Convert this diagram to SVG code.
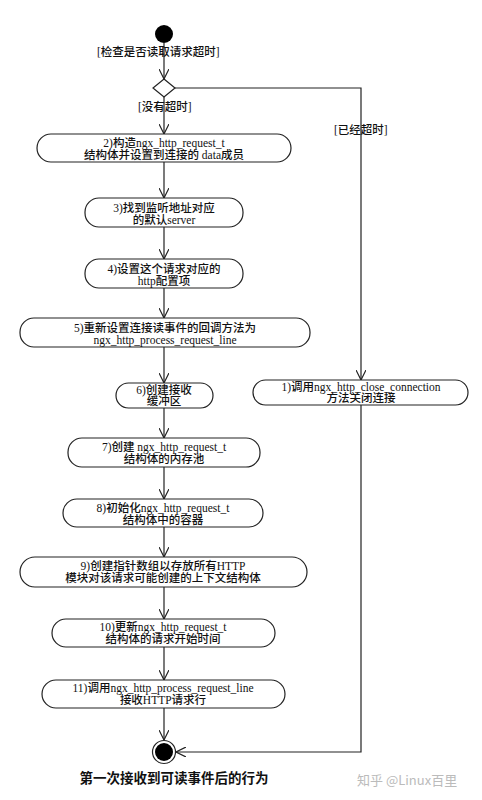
<svg xmlns="http://www.w3.org/2000/svg" width="482" height="800" viewBox="0 0 482 800">
<defs>
<style>
.n{fill:#fff;stroke:#222;stroke-width:1.2}
.t{font-family:"Liberation Serif","Noto Sans CJK SC",serif;font-size:11.5px;font-weight:500;fill:#111;text-anchor:middle}
.g{font-family:"Liberation Serif","Noto Sans CJK SC",serif;font-size:11.5px;font-weight:500;fill:#111}
.c{fill:none;stroke:#222;stroke-width:1.2}
</style>
<marker id="a" viewBox="0 0 10 10" refX="10" refY="5" markerWidth="10" markerHeight="10" markerUnits="userSpaceOnUse" orient="auto">
<path d="M0,0 L10,5 L0,10" fill="none" stroke="#222" stroke-width="1.2"/>
</marker>
</defs>
<rect width="482" height="800" fill="#fff"/>
<g id="connectors">
<path class="c" d="M164,43 V79" marker-end="url(#a)"/>
<path class="c" d="M164,97 V134" marker-end="url(#a)"/>
<path class="c" d="M164,162 V198" marker-end="url(#a)"/>
<path class="c" d="M164,227 V259" marker-end="url(#a)"/>
<path class="c" d="M164,288 V318" marker-end="url(#a)"/>
<path class="c" d="M164,347 V383" marker-end="url(#a)"/>
<path class="c" d="M164,408 V438" marker-end="url(#a)"/>
<path class="c" d="M164,467 V499" marker-end="url(#a)"/>
<path class="c" d="M164,527 V557" marker-end="url(#a)"/>
<path class="c" d="M164,587 V619" marker-end="url(#a)"/>
<path class="c" d="M164,647 V680" marker-end="url(#a)"/>
<path class="c" d="M164,708 V740" marker-end="url(#a)"/>
<path class="c" d="M175,88 H361 V380" marker-end="url(#a)"/>
<path class="c" d="M361,405 V752 H176" marker-end="url(#a)"/>
<text class="g" x="97" y="56">[检查是否读取请求超时]</text>
<text class="g" x="138" y="111">[没有超时]</text>
<text class="g" x="334" y="134">[已经超时]</text>
</g>
<g id="start"><circle cx="164" cy="34" r="9" fill="#000"/></g>
<g id="decision"><path d="M164,79 L175,88 L164,97 L153,88 Z" class="n"/></g>
<g id="node2"><rect class="n" x="37" y="134" width="254" height="28" rx="14"/>
<text class="t" x="164" y="147">2)构造ngx_http_request_t</text>
<text class="t" x="164" y="159">结构体并设置到连接的 data成员</text></g>
<g id="node3"><rect class="n" x="85" y="198" width="158" height="29" rx="14"/>
<text class="t" x="164" y="212">3)找到监听地址对应</text>
<text class="t" x="164" y="224">的默认server</text></g>
<g id="node4"><rect class="n" x="85" y="259" width="158" height="29" rx="14"/>
<text class="t" x="164" y="273">4)设置这个请求对应的</text>
<text class="t" x="164" y="285">http配置项</text></g>
<g id="node5"><rect class="n" x="20" y="318" width="290" height="29" rx="14"/>
<text class="t" x="165" y="332">5)重新设置连接读事件的回调方法为</text>
<text class="t" x="165" y="344">ngx_http_process_request_line</text></g>
<g id="node6"><rect class="n" x="116" y="383" width="97" height="25" rx="12.5"/>
<text class="t" x="164" y="394">6)创建接收</text>
<text class="t" x="164" y="405">缓冲区</text></g>
<g id="node1"><rect class="n" x="253" y="380" width="215" height="25" rx="12.5"/>
<text class="t" x="361" y="391">1)调用ngx_http_close_connection</text>
<text class="t" x="361" y="402">方法关闭连接</text></g>
<g id="node7"><rect class="n" x="68" y="438" width="192" height="29" rx="14"/>
<text class="t" x="164" y="451">7)创建 ngx_http_request_t</text>
<text class="t" x="164" y="463">结构体的内存池</text></g>
<g id="node8"><rect class="n" x="63" y="499" width="200" height="28" rx="14"/>
<text class="t" x="163" y="512">8)初始化ngx_http_request_t</text>
<text class="t" x="163" y="524">结构体中的容器</text></g>
<g id="node9"><rect class="n" x="20" y="557" width="287" height="30" rx="15"/>
<text class="t" x="163" y="570">9)创建指针数组以存放所有HTTP</text>
<text class="t" x="163" y="582">模块对该请求可能创建的上下文结构体</text></g>
<g id="node10"><rect class="n" x="52" y="619" width="223" height="28" rx="14"/>
<text class="t" x="163" y="631">10)更新ngx_http_request_t</text>
<text class="t" x="163" y="643">结构体的请求开始时间</text></g>
<g id="node11"><rect class="n" x="42" y="680" width="243" height="28" rx="14"/>
<text class="t" x="163" y="692">11)调用ngx_http_process_request_line</text>
<text class="t" x="163" y="704">接收HTTP请求行</text></g>
<g id="end"><circle cx="164" cy="752" r="11.5" fill="#fff" stroke="#222" stroke-width="1.2"/><circle cx="164" cy="752" r="9" fill="#000"/></g>
<text x="174" y="783" font-family="Liberation Serif,Noto Sans CJK SC,serif" font-size="13.5" font-weight="bold" fill="#111" text-anchor="middle">第一次接收到可读事件后的行为</text>
<text x="357" y="785" font-family="Noto Sans CJK SC,sans-serif" font-size="13" fill="#bbb">知乎 @Linux百里</text>
</svg>
